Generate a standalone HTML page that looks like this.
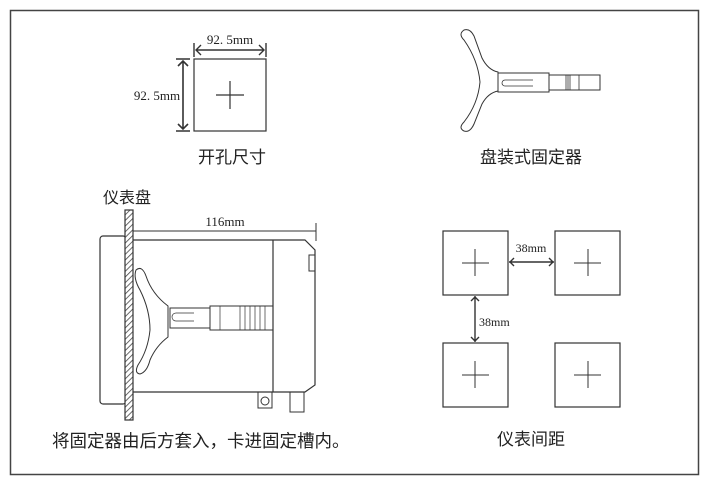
<!DOCTYPE html>
<html><head><meta charset="utf-8"><style>
html,body{margin:0;padding:0;background:#fff;}
svg{display:block}
.cn{font-family:"Liberation Sans","Noto Sans CJK SC",sans-serif;fill:#222}
.m{font-family:"Liberation Serif","Noto Serif CJK SC",serif;fill:#222}
</style></head><body>
<svg width="706" height="484" viewBox="0 0 706 484" xmlns="http://www.w3.org/2000/svg">
<defs>
<pattern id="h" width="4" height="4" patternUnits="userSpaceOnUse" patternTransform="rotate(45)">
<rect width="4" height="4" fill="#fff"/><line x1="0" y1="0" x2="0" y2="4" stroke="#444" stroke-width="1.6"/></pattern>
</defs>
<rect x="10.5" y="10.5" width="688" height="464" fill="none" stroke="#444" stroke-width="1.5"/>
<g stroke="#333" fill="none" stroke-width="1.2">
<!-- cutout -->
<rect x="194" y="59" width="72" height="72"/>
<path d="M216 95h28M230 81v28"/>
<path d="M194 43v14M266 43v14M196 50h68M201 45l-5 5 5 5M259 45l5 5-5 5" stroke-width="1.4"/>
<path d="M176 59h14M176 131h14M183 61v68M178 66l5-5 5 5M178 124l5 5 5-5" stroke-width="1.6"/>
<!-- grid -->
<rect x="443" y="231" width="65" height="64"/><rect x="555" y="231" width="65" height="64"/>
<rect x="443" y="343" width="65" height="64"/><rect x="555" y="343" width="65" height="64"/>
<path d="M462 263h27M475 249v27M574 263h27M588 249v27M462 375h27M475 361v27M574 375h27M588 361v27" stroke-width="1"/>
<path d="M509 262h45M514 258l-4 4 4 4M549 258l4 4-4 4M475 296v46M471 301l4-4 4 4M471 337l4 4 4-4" stroke-width="1.4"/>
<!-- fixer top right -->
<path d="M498 72 Q488 70 482 58 L474 36 Q470 28 464 30 Q458 34 464 40 Q478 60 480 82 Q478 104 464 122 Q458 128 464 131 Q470 133 474 124 L482 104 Q488 93 498 91 Z" stroke-width="1"/>
<rect x="498" y="73" width="51" height="19" stroke-width="1"/>
<rect x="549" y="75" width="51" height="15" stroke-width="1"/>
<path d="M533 80h-28a3 3 0 0 0 0 6h28M566 75v15M568 75v15M570 75v15M579 75v15" stroke-width="0.8"/>
<!-- side view -->
<rect x="100" y="236" width="26" height="168" rx="3"/>
<rect x="125" y="210" width="8" height="210" fill="url(#h)" stroke="#333"/>
<path d="M133 231h183M316 223v18" stroke-width="1"/>
<path d="M133 240h140v152H133M273 240h32l10 10v135l-10 7h-32" />
<path d="M309 255v16h6v-16z M315 360v20" stroke-width="1"/>
<path d="M168 306 Q152 294 146 276 Q142 265 136 270 Q133 278 140 290 Q150 310 150 330 Q148 350 138 365 Q134 373 140 374 Q147 372 150 360 Q156 346 168 337 Z" stroke-width="1"/>
<rect x="170" y="308" width="40" height="20" stroke-width="1"/>
<rect x="210" y="306" width="63" height="24" stroke-width="1"/>
<path d="M220 306v24M240 306v24M245 306v24M250 306v24M255 306v24M260 306v24M265 306v24M194 313h-18a4 4 0 0 0 0 8h18" stroke-width="0.7"/>
<path d="M258 392v16h14v-16M290 392v20h14v-20" stroke-width="1"/>
<circle cx="265" cy="401" r="4" stroke-width="1"/>
</g>
<g class="m" font-size="13">
<text x="230" y="44" text-anchor="middle">92. 5mm</text>
<text x="157" y="100" text-anchor="middle">92. 5mm</text>
<text x="225" y="226" text-anchor="middle">116mm</text>
<text x="531" y="252" text-anchor="middle" font-size="12">38mm</text>
<text x="479" y="326" font-size="12">38mm</text>
</g>
<g class="cn" font-size="17">
<text x="232" y="163" text-anchor="middle">开孔尺寸</text>
<text x="531" y="163" text-anchor="middle">盘装式固定器</text>
<text x="103" y="203" font-size="16">仪表盘</text>
<text x="531" y="445" text-anchor="middle">仪表间距</text>
<text x="52" y="447" font-size="17.5">将固定器由后方套入，卡进固定槽内。</text>
</g>
</svg>
</body></html>
